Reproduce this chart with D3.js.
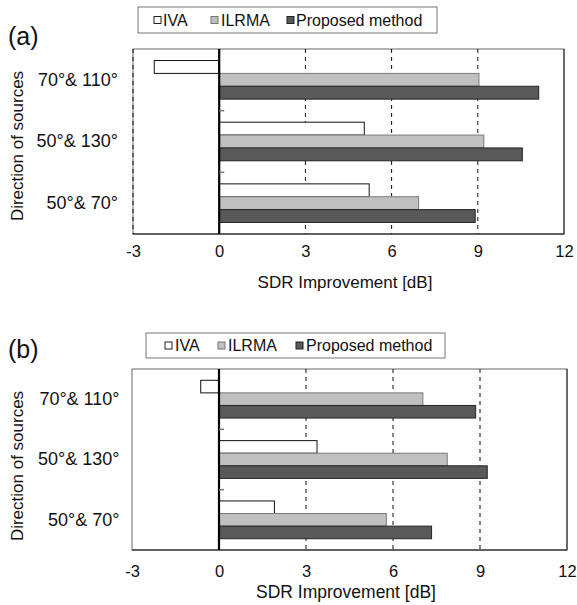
<!DOCTYPE html>
<html>
<head>
<meta charset="utf-8">
<script src="https://cdn.jsdelivr.net/npm/d3@7"></script>
<style>
  html, body { margin: 0; padding: 0; background: #fff; }
  svg { display: block; font-family: "Liberation Sans", Arial, sans-serif; }
</style>
</head>
<body>
<svg id="chart" width="577" height="605"></svg>
<script>
// ---------- data ----------
const categories = ["70°& 110°", "50°& 130°", "50°& 70°"];
const seriesNames = ["IVA", "ILRMA", "Proposed method"];
const xTicks = [-3, 0, 3, 6, 9, 12];
const gridTicks = [3, 6, 9];

// panel (a)
const aIVA = [-2.26, 5.05, 5.22];
const aILRMA = [9.04, 9.21, 6.94];
const aProposed = [11.12, 10.55, 8.91];

// panel (b)
const bIVA = [-0.63, 3.38, 1.91];
const bILRMA = [7.03, 7.87, 5.77];
const bProposed = [8.85, 9.25, 7.33];

const xTitle = "SDR Improvement [dB]";
const yTitle = "Direction of sources";

// ---------- styles ----------
const fills = { "IVA": "#ffffff", "ILRMA": "#c0c0c0", "Proposed method": "#595959" };
const strokes = { "IVA": "#111111", "ILRMA": "#7a7a7a", "Proposed method": "#262626" };

const svg = d3.select("#chart");

function drawPanel(cfg) {
  const values = { "IVA": cfg.iva, "ILRMA": cfg.ilrma, "Proposed method": cfg.prop };
  const g = svg.append("g");

  const x = d3.scaleLinear().domain([-3, 12]).range([cfg.left, cfg.right]);
  const y = d3.scaleBand().domain(categories).range([cfg.top, cfg.bottom]).padding(0);
  const bw = y.bandwidth();
  const ys = d3.scaleBand().domain(seriesNames).range([bw * 0.187, bw * 0.813]).padding(0);

  // frame
  g.append("rect")
    .attr("x", cfg.left).attr("y", cfg.top)
    .attr("width", cfg.right - cfg.left).attr("height", cfg.bottom - cfg.top)
    .attr("fill", "none").attr("stroke", "#666").attr("stroke-width", 1);
  g.append("line")
    .attr("x1", cfg.left).attr("x2", cfg.right)
    .attr("y1", cfg.bottom).attr("y2", cfg.bottom)
    .attr("stroke", "#111").attr("stroke-width", 1.2);
  g.append("line")
    .attr("x1", cfg.right).attr("x2", cfg.right)
    .attr("y1", cfg.top).attr("y2", cfg.bottom)
    .attr("stroke", "#222").attr("stroke-width", 1);

  // dashed gridlines
  g.selectAll(".grid").data(cfg.dashLeft ? [-3].concat(gridTicks) : gridTicks).enter().append("line")
    .attr("x1", d => x(d)).attr("x2", d => x(d))
    .attr("y1", cfg.top).attr("y2", cfg.bottom)
    .attr("stroke", "#111").attr("stroke-width", 1)
    .attr("stroke-dasharray", "4,4");

  // bars
  seriesNames.forEach(s => {
    g.selectAll(null).data(categories).enter().append("rect")
      .attr("x", (c, i) => Math.min(x(0), x(values[s][i])))
      .attr("width", (c, i) => Math.abs(x(values[s][i]) - x(0)))
      .attr("y", c => y(c) + ys(s))
      .attr("height", ys.bandwidth())
      .attr("fill", fills[s])
      .attr("stroke", strokes[s])
      .attr("stroke-width", 1);
  });

  // zero line
  g.append("line")
    .attr("x1", x(0)).attr("x2", x(0))
    .attr("y1", cfg.top).attr("y2", cfg.bottom)
    .attr("stroke", "#000").attr("stroke-width", 2.2);

  // small ticks at category boundaries
  g.selectAll(".ctick").data(categories.slice(1)).enter().append("line")
    .attr("x1", x(0)).attr("x2", x(0) + 5)
    .attr("y1", c => y(c)).attr("y2", c => y(c))
    .attr("stroke", "#777").attr("stroke-width", 1.5);

  // x axis labels
  const xa = g.append("g")
    .attr("transform", `translate(0,${cfg.bottom})`)
    .call(d3.axisBottom(x).tickValues(xTicks).tickSize(0).tickPadding(cfg.tickPad)
      .tickFormat(d => d));
  xa.select(".domain").remove();
  xa.selectAll("text").attr("font-size", 16.5).attr("fill", "#111")
    .attr("font-family", "'Liberation Sans', Arial, sans-serif");

  // y axis labels
  const ya = g.append("g")
    .attr("transform", `translate(${cfg.catX},0)`)
    .call(d3.axisLeft(y).tickSize(0).tickPadding(0));
  ya.select(".domain").remove();
  ya.selectAll("text").attr("font-size", 18).attr("fill", "#111")
    .attr("font-family", "'Liberation Sans', Arial, sans-serif");

  // axis titles
  g.append("text")
    .attr("x", cfg.xTitleX).attr("y", cfg.xTitleY)
    .attr("text-anchor", "middle").attr("dominant-baseline", "central")
    .attr("font-size", cfg.xTitleSize).attr("fill", "#111")
    .text(xTitle);
  g.append("text")
    .attr("transform", `translate(${cfg.yTitleX},${cfg.yTitleY}) rotate(-90)`)
    .attr("text-anchor", "middle").attr("dominant-baseline", "central")
    .attr("font-size", 17).attr("fill", "#111")
    .text(yTitle);

  // panel label
  g.append("text")
    .attr("x", cfg.labelX).attr("y", cfg.labelY)
    .attr("font-size", 25).attr("fill", "#111")
    .text(cfg.label);

  // legend
  const lg = g.append("g");
  lg.append("rect")
    .attr("x", cfg.legend.x).attr("y", cfg.legend.y)
    .attr("width", cfg.legend.w).attr("height", cfg.legend.h)
    .attr("fill", "#fff").attr("stroke", "#777").attr("stroke-width", 1);
  const cy = cfg.legend.y + cfg.legend.h / 2;
  seriesNames.forEach((s, i) => {
    lg.append("rect")
      .attr("x", cfg.legend.mx[i]).attr("y", cy - 3.5)
      .attr("width", 7).attr("height", 7)
      .attr("fill", fills[s]).attr("stroke", i === 1 ? "#777" : "#222").attr("stroke-width", 1);
    lg.append("text")
      .attr("x", cfg.legend.tx[i]).attr("y", cy)
      .attr("dominant-baseline", "central")
      .attr("font-size", 16).attr("fill", "#111")
      .text(s);
  });
}

drawPanel({
  label: "(a)", labelX: 8, labelY: 45, dashLeft: true,
  iva: aIVA, ilrma: aILRMA, prop: aProposed,
  left: 133, right: 564, top: 49, bottom: 234,
  tickPad: 11, catX: 118,
  xTitleX: 345, xTitleY: 282, xTitleSize: 17,
  yTitleX: 17, yTitleY: 146,
  legend: { x: 138, y: 7, w: 299, h: 26, mx: [154, 211, 287], tx: [163, 221, 296] }
});

drawPanel({
  label: "(b)", labelX: 8, labelY: 358, dashLeft: false,
  iva: bIVA, ilrma: bILRMA, prop: bProposed,
  left: 132, right: 567, top: 369, bottom: 550,
  tickPad: 15, catX: 119.5,
  xTitleX: 346, xTitleY: 592, xTitleSize: 17.5,
  yTitleX: 17, yTitleY: 466,
  legend: { x: 146, y: 333, w: 299, h: 25, mx: [165, 218, 296], tx: [175, 228, 306] }
});
</script>
</body>
</html>
